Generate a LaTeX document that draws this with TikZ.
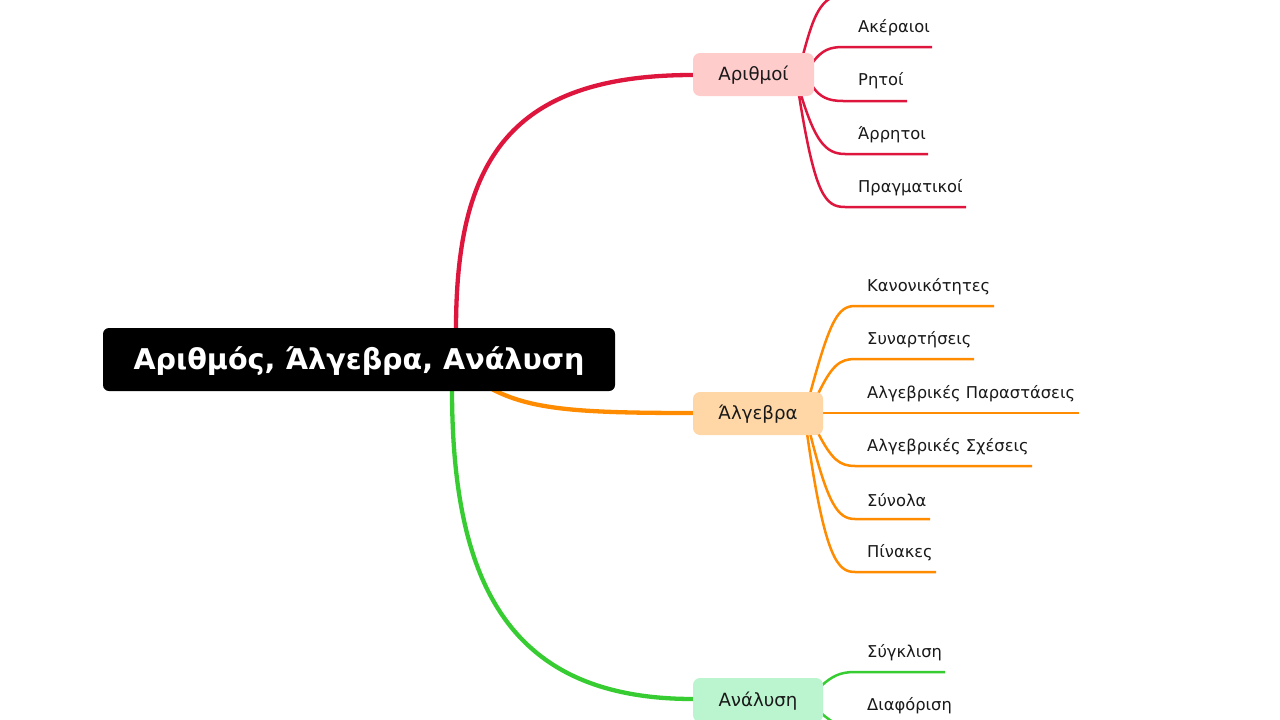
\documentclass[tikz,border=0pt]{standalone}
\usepackage{fontspec}
\setmainfont{DejaVu Sans}
\definecolor{cred}{RGB}{222,22,62}
\definecolor{corange}{RGB}{255,140,0}
\definecolor{cgreen}{RGB}{55,205,50}
\definecolor{fred}{RGB}{255,204,204}
\definecolor{forange}{RGB}{255,214,165}
\definecolor{fgreen}{RGB}{187,245,207}
\definecolor{txt}{RGB}{25,25,25}
\begin{document}
\begin{tikzpicture}[x=1pt,y=-1pt,
  mainline/.style={line width=4.3pt},
  subline/.style={line width=2.5pt},
  topic/.style={rounded corners=7pt, inner sep=0pt, minimum width=130pt, minimum height=43pt, text height=17pt, text depth=4.5pt, text=txt, font=\fontsize{18.2}{22}\selectfont},
  lbl/.style={anchor=west, inner sep=0pt, text=txt, font=\fontsize{16.3}{19}\selectfont}]
\useasboundingbox (0,0) rectangle (1280,720);
\fill[white] (0,0) rectangle (1280,720);
% coordinates
\coordinate (rs) at (456,330);
\coordinate (os) at (490,388);
\coordinate (gs) at (452,389);
% main branches
\draw[mainline, cred] (rs) .. controls (456,160) and (510,75) .. (693,75);
\draw[mainline, corange] (os) .. controls (530,410) and (580,413) .. (693,413);
\draw[mainline, cgreen] (gs) .. controls (452,585) and (510,699) .. (693,699);
% red children
\begin{scope}[subline, cred]
\draw (803,55) .. controls (815,10) and (822,-6) .. (850,-6) -- (960,-6);
\coordinate (r1) at (932,47);
\coordinate (r2) at (907,101);
\coordinate (r3) at (928,154);
\coordinate (r4) at (966,207);
\draw (813,62) .. controls (822,50) and (830,47) .. (843,47) -- (r1);
\draw (813,87) .. controls (820,97) and (828,101) .. (843,101) -- (r2);
\draw (801,95) .. controls (815,140) and (825,154) .. (845,154) -- (r3);
\draw (799,95) .. controls (815,195) and (825,207) .. (845,207) -- (r4);
\end{scope}
% orange children
\begin{scope}[subline, corange]
\coordinate (o1) at (994,306);
\coordinate (o2) at (974,359);
\coordinate (o3) at (1079,413);
\coordinate (o4) at (1032,466);
\coordinate (o5) at (930,519);
\coordinate (o6) at (936,572);
\draw (810,394) .. controls (830,320) and (838,306) .. (855,306) -- (o1);
\draw (818,394) .. controls (832,365) and (840,359) .. (855,359) -- (o2);
\draw (820,413) -- (o3);
\draw (818,433) .. controls (832,460) and (840,466) .. (855,466) -- (o4);
\draw (810,433) .. controls (828,505) and (838,519) .. (855,519) -- (o5);
\draw (807,433) .. controls (825,560) and (838,572) .. (855,572) -- (o6);
\end{scope}
% green children
\begin{scope}[subline, cgreen]
\coordinate (g1) at (945,672);
\coordinate (g2) at (960,727);
\draw (820,687) .. controls (832,676) and (840,672) .. (855,672) -- (g1);
\draw (820,712) .. controls (832,723) and (840,727) .. (855,727) -- (g2);
\end{scope}
% nodes
\node[fill=black, rounded corners=6pt, minimum width=512pt, minimum height=63pt, inner sep=0pt, text height=26pt, text depth=7pt, text=white, font=\bfseries\fontsize{28.6}{33}\selectfont] (c) at (359,359.5) {Αριθμός, Άλγεβρα, Ανάλυση};
\node[topic, fill=fred, minimum width=121pt] (ar) at (753.5,74.5) {Αριθμοί};
\node[topic, fill=forange] (al) at (758,413.5) {Άλγεβρα};
\node[topic, fill=fgreen, minimum height=44pt] (an) at (758,700) {Ανάλυση};
% labels
\node[lbl] (t1) at (858,28) {Ακέραιοι};
\node[lbl] (t2) at (858,81) {Ρητοί};
\node[lbl] (t3) at (858,135) {Άρρητοι};
\node[lbl] (t4) at (858,188) {Πραγματικοί};
\node[lbl] (u1) at (867,287) {Κανονικότητες};
\node[lbl] (u2) at (867,340) {Συναρτήσεις};
\node[lbl] (u3) at (867,394) {Αλγεβρικές Παραστάσεις};
\node[lbl] (u4) at (867,447) {Αλγεβρικές Σχέσεις};
\node[lbl] (u5) at (867,500) {Σύνολα};
\node[lbl] (u6) at (867,553) {Πίνακες};
\node[lbl] (v1) at (867,653) {Σύγκλιση};
\node[lbl] (v2) at (867,706) {Διαφόριση};
\end{tikzpicture}
\end{document}
